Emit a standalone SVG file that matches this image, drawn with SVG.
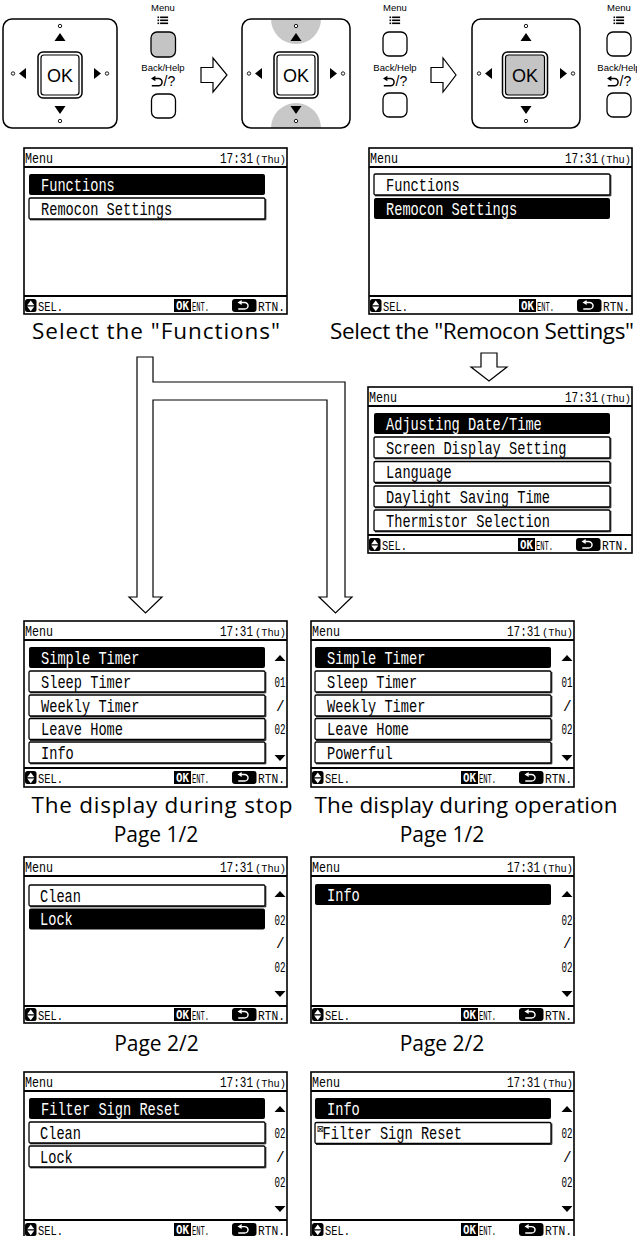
<svg xmlns="http://www.w3.org/2000/svg" xmlns:xlink="http://www.w3.org/1999/xlink" width="637" height="1236" viewBox="0 0 637 1236">
<style>
.pnl{fill:#fff;stroke:#000;stroke-width:1.5}
.okb{fill:#fff;stroke:#000;stroke-width:1.5}
.okg{fill:#c4c4c4;stroke:#000;stroke-width:1.5}
.okt{font-family:"Liberation Sans",Arial,sans-serif;font-size:18px;text-anchor:middle;fill:#000}
.btn{fill:#fff;stroke:#000;stroke-width:1.3}
.btng{fill:#c4c4c4;stroke:#000;stroke-width:1.3}
.lbl{font-family:"Liberation Sans",Arial,sans-serif;font-size:9.5px;text-anchor:middle;fill:#000}
.q{font-family:"Liberation Sans",Arial,sans-serif;font-size:14px;fill:#000}
.harrow{fill:#fff;stroke:#000;stroke-width:1.2;stroke-linejoin:miter}
.scr{fill:#fff;stroke:#000;stroke-width:1.6}
.sep{stroke:#000;stroke-width:1.8}
.hdr{font-family:"Liberation Mono","DejaVu Sans Mono",monospace;font-size:14px;fill:#000}
.ths{font-family:"Liberation Mono","DejaVu Sans Mono",monospace;font-size:11px;fill:#000}
.lcd{font-family:"Liberation Mono","DejaVu Sans Mono",monospace;font-size:18.5px;fill:#000}
.wt{fill:#fff}
.sel{fill:#000}
.item{fill:#fff;stroke:#000;stroke-width:1.3}
.shd{fill:none;stroke:#000;stroke-width:1}
.ft{font-family:"Liberation Mono","DejaVu Sans Mono",monospace;font-size:13px;fill:#000}
.okf{font-family:"DejaVu Sans Mono",monospace;font-size:11.5px;font-weight:bold;fill:#fff}
.sc{font-family:"Liberation Mono","DejaVu Sans Mono",monospace;font-size:14.5px;fill:#000}
.cap{font-family:"Open Sans","Liberation Sans",sans-serif;font-size:22.5px;text-anchor:middle;fill:#000}
.pg{font-family:"Open Sans","Liberation Sans",sans-serif;font-size:21px;text-anchor:middle;fill:#000}
</style>
<defs>
<g id="marks">
<circle cx="0" cy="-47.5" r="1.7" fill="#fff" stroke="#000" stroke-width="0.9"/>
<polygon points="0,-40.5 5.5,-32.5 -5.5,-32.5" fill="#000"/>
<polygon points="0,40.5 5.5,32.5 -5.5,32.5" fill="#000"/>
<circle cx="0" cy="47.5" r="1.7" fill="#fff" stroke="#000" stroke-width="0.9"/>
<polygon points="-41,0 -34,-5.5 -34,5.5" fill="#000"/>
<circle cx="-47" cy="0" r="1.7" fill="#fff" stroke="#000" stroke-width="0.9"/>
<polygon points="41,0 34,-5.5 34,5.5" fill="#000"/>
<circle cx="47" cy="0" r="1.7" fill="#fff" stroke="#000" stroke-width="0.9"/>
</g>
<g id="ret">
<path d="M0,2.5 L4.4,-0.2 L4.4,5.2 Z" stroke="none"/>
<path d="M3.8,2.5 H7.5 A3.6,3.6 0 0 1 7.5,9.7 H0.8" fill="none" stroke-width="1.5"/>
</g>
<g id="menuicon">
<rect x="0" y="0" width="1.6" height="1.6" fill="#000"/>
<rect x="0" y="3" width="1.6" height="1.6" fill="#000"/>
<rect x="0" y="6" width="1.6" height="1.6" fill="#000"/>
<rect x="2.6" y="0" width="8" height="1.6" fill="#000"/>
<rect x="2.6" y="3" width="8" height="1.6" fill="#000"/>
<rect x="2.6" y="6" width="8" height="1.6" fill="#000"/>
</g>
<g id="ficons">
<rect x="1" y="151" width="11.5" height="13" rx="2.5" fill="#000"/>
<polygon points="6.75,152.6 10.3,157.2 3.2,157.2" fill="#fff"/>
<polygon points="3.2,158.6 10.3,158.6 6.75,163.2" fill="#fff"/>
<rect x="150" y="151" width="17" height="13" fill="#000"/>
<rect x="208" y="151" width="24.5" height="13" rx="3" fill="#000"/>
<use xlink:href="#ret" href="#ret" transform="translate(213.5,152.3) scale(0.95,0.9)" fill="#fff" stroke="#fff"/>
</g>
<g id="scrollarrows">
<polygon points="250.5,40 261.5,40 256,34" fill="#000"/>
<polygon points="250.5,134 261.5,134 256,140" fill="#000"/>
</g>
<clipPath id="clipP2"><rect x="242" y="19" width="108" height="109" rx="9"/></clipPath>
</defs>

<!-- Top row: remote controller buttons -->
<g id="dpad-1">
<rect class="pnl" x="3" y="19" width="114" height="109" rx="9"/>
<use xlink:href="#marks" href="#marks" transform="translate(60,73.5)"/>
<rect class="okb" x="38" y="52" width="44" height="46" rx="5"/>
<rect class="okb" x="41" y="55" width="38" height="40" rx="3" style="stroke-width:1.2"/>
<text class="okt" x="60" y="81.5">OK</text>
</g>
<g id="menu-buttons-1">
<text class="lbl" x="163" y="11">Menu</text>
<use xlink:href="#menuicon" href="#menuicon" x="157.5" y="16.5"/>
<rect class="btng" x="151" y="32" width="24.5" height="25" rx="6"/>
<text class="lbl" x="163" y="70.5">Back/Help</text>
<use xlink:href="#ret" href="#ret" transform="translate(151,76)" fill="#000" stroke="#000"/>
<text class="q" x="163.5" y="86">/?</text>
<rect class="btn" x="151.5" y="94" width="24" height="24" rx="6"/>
</g>
<g id="arrow-right-1">
<polygon class="harrow" points="201,67.5 213,67.5 213,58 227,75 213,92 213,82.5 201,82.5"/>
</g>
<g id="dpad-2">
<rect x="242" y="19" width="108" height="109" rx="9" fill="#fff"/>
<g clip-path="url(#clipP2)">
<circle cx="296" cy="19" r="25" fill="#c8c8c8"/>
<circle cx="296" cy="128" r="25" fill="#c8c8c8"/>
</g>
<rect x="242" y="19" width="108" height="109" rx="9" fill="none" stroke="#000" stroke-width="1.5"/>
<use xlink:href="#marks" href="#marks" transform="translate(296,73.5)"/>
<rect class="okb" x="274" y="52" width="44" height="46" rx="5"/>
<rect class="okb" x="277" y="55" width="38" height="40" rx="3" style="stroke-width:1.2"/>
<text class="okt" x="296" y="81.5">OK</text>
</g>
<g id="menu-buttons-2">
<text class="lbl" x="395" y="11">Menu</text>
<use xlink:href="#menuicon" href="#menuicon" x="389.5" y="16.5"/>
<rect class="btn" x="383" y="32" width="24" height="24" rx="6"/>
<text class="lbl" x="395" y="70.5">Back/Help</text>
<use xlink:href="#ret" href="#ret" transform="translate(383,76)" fill="#000" stroke="#000"/>
<text class="q" x="395.5" y="86">/?</text>
<rect class="btn" x="383" y="93" width="24" height="24" rx="6"/>
</g>
<g id="arrow-right-2">
<polygon class="harrow" points="431,67.5 443,67.5 443,58 456,75 443,92 443,82.5 431,82.5"/>
</g>
<g id="dpad-3">
<rect class="pnl" x="472" y="19" width="108" height="109" rx="9"/>
<use xlink:href="#marks" href="#marks" transform="translate(526,73.5)"/>
<rect class="okb" x="502.5" y="52" width="45" height="46" rx="5"/>
<rect class="okg" x="505.5" y="55" width="39" height="40" rx="3" style="stroke-width:1.2"/>
<text class="okt" x="525" y="81.5">OK</text>
</g>
<g id="menu-buttons-3">
<text class="lbl" x="619" y="11">Menu</text>
<use xlink:href="#menuicon" href="#menuicon" x="613.5" y="16.5"/>
<rect class="btn" x="607" y="32" width="24" height="24" rx="6"/>
<text class="lbl" x="619" y="70.5">Back/Help</text>
<use xlink:href="#ret" href="#ret" transform="translate(607,76)" fill="#000" stroke="#000"/>
<text class="q" x="619.5" y="86">/?</text>
<rect class="btn" x="607" y="93" width="24" height="24" rx="6"/>
</g>

<!-- Screen: Menu (Functions selected) -->
<g id="screen-menu-functions" transform="translate(24,148)">
<rect class="scr" x="0" y="0" width="263" height="166"/>
<text class="hdr" x="1" y="14.5" textLength="28" lengthAdjust="spacingAndGlyphs">Menu</text>
<text class="hdr" transform="translate(196,14.5) scale(0.786,1)">17:31</text>
<text class="ths" transform="translate(231,14.5) scale(0.94,1)">(Thu)</text>
<line class="sep" x1="0" y1="19" x2="263" y2="19"/>
<rect class="sel" x="5" y="26" width="236" height="21" rx="2"/>
<text class="lcd wt" x="17" y="42.5" textLength="73.8" lengthAdjust="spacingAndGlyphs">Functions</text>
<rect class="item" x="5" y="50" width="236" height="21" rx="1.5"/>
<path class="shd" d="M241.8,51 V71.8 H6"/>
<text class="lcd" x="17" y="66.5" textLength="131.2" lengthAdjust="spacingAndGlyphs">Remocon Settings</text>
<line class="sep" x1="0" y1="148" x2="263" y2="148"/>
<use xlink:href="#ficons" href="#ficons"/>
<text class="ft" x="14" y="163" textLength="25" lengthAdjust="spacingAndGlyphs">SEL.</text>
<text class="okf" x="152" y="162" textLength="13" lengthAdjust="spacingAndGlyphs">OK</text>
<text class="ft" x="168" y="163" textLength="17" lengthAdjust="spacingAndGlyphs">ENT.</text>
<text class="ft" x="234" y="163" textLength="27" lengthAdjust="spacingAndGlyphs">RTN.</text>
</g>
<text class="cap" x="156" y="339" textLength="248">Select the "Functions"</text>

<!-- Screen: Menu (Remocon Settings selected) -->
<g id="screen-menu-remocon" transform="translate(369,148)">
<rect class="scr" x="0" y="0" width="263" height="166"/>
<text class="hdr" x="1" y="14.5" textLength="28" lengthAdjust="spacingAndGlyphs">Menu</text>
<text class="hdr" transform="translate(196,14.5) scale(0.786,1)">17:31</text>
<text class="ths" transform="translate(231,14.5) scale(0.94,1)">(Thu)</text>
<line class="sep" x1="0" y1="19" x2="263" y2="19"/>
<rect class="item" x="5" y="26" width="236" height="21" rx="1.5"/>
<path class="shd" d="M241.8,27 V47.8 H6"/>
<text class="lcd" x="17" y="42.5" textLength="73.8" lengthAdjust="spacingAndGlyphs">Functions</text>
<rect class="sel" x="5" y="50" width="236" height="21" rx="2"/>
<text class="lcd wt" x="17" y="66.5" textLength="131.2" lengthAdjust="spacingAndGlyphs">Remocon Settings</text>
<line class="sep" x1="0" y1="148" x2="263" y2="148"/>
<use xlink:href="#ficons" href="#ficons"/>
<text class="ft" x="14" y="163" textLength="25" lengthAdjust="spacingAndGlyphs">SEL.</text>
<text class="okf" x="152" y="162" textLength="13" lengthAdjust="spacingAndGlyphs">OK</text>
<text class="ft" x="168" y="163" textLength="17" lengthAdjust="spacingAndGlyphs">ENT.</text>
<text class="ft" x="234" y="163" textLength="27" lengthAdjust="spacingAndGlyphs">RTN.</text>
</g>
<text class="cap" x="482" y="339" textLength="304">Select the "Remocon Settings"</text>

<!-- Connectors -->
<g id="connectors">
<polygon class="harrow" points="481,353 497,353 497,367 507,367 489,381 471,367 481,367"/>
<polygon class="harrow" points="137,357 153,357 153,382 345,382 345,597 352,597 335.5,613 319,597 327,597 327,400 153,400 153,597 162,597 145.5,613 129,597 137,597"/>
</g>

<!-- Screen: Remocon Settings menu -->
<g id="screen-remocon-settings" transform="translate(368,387)">
<rect class="scr" x="0" y="0" width="264" height="166"/>
<text class="hdr" x="1" y="14.5" textLength="28" lengthAdjust="spacingAndGlyphs">Menu</text>
<text class="hdr" transform="translate(197,14.5) scale(0.786,1)">17:31</text>
<text class="ths" transform="translate(232,14.5) scale(0.94,1)">(Thu)</text>
<line class="sep" x1="0" y1="19" x2="264" y2="19"/>
<rect class="sel" x="6" y="26" width="236" height="21" rx="2"/>
<text class="lcd wt" x="18" y="42.5" textLength="155.8" lengthAdjust="spacingAndGlyphs">Adjusting Date/Time</text>
<rect class="item" x="6" y="50" width="236" height="21" rx="1.5"/>
<path class="shd" d="M242.8,51 V71.8 H7"/>
<text class="lcd" x="18" y="66.5" textLength="180.4" lengthAdjust="spacingAndGlyphs">Screen Display Setting</text>
<rect class="item" x="6" y="74.5" width="236" height="21" rx="1.5"/>
<path class="shd" d="M242.8,75.5 V96.3 H7"/>
<text class="lcd" x="18" y="91" textLength="65.6" lengthAdjust="spacingAndGlyphs">Language</text>
<rect class="item" x="6" y="99" width="236" height="21" rx="1.5"/>
<path class="shd" d="M242.8,100 V120.8 H7"/>
<text class="lcd" x="18" y="115.5" textLength="164" lengthAdjust="spacingAndGlyphs">Daylight Saving Time</text>
<rect class="item" x="6" y="123" width="236" height="21" rx="1.5"/>
<path class="shd" d="M242.8,124 V144.8 H7"/>
<text class="lcd" x="18" y="139.5" textLength="164" lengthAdjust="spacingAndGlyphs">Thermistor Selection</text>
<line class="sep" x1="0" y1="148" x2="264" y2="148"/>
<use xlink:href="#ficons" href="#ficons"/>
<text class="ft" x="14" y="163" textLength="25" lengthAdjust="spacingAndGlyphs">SEL.</text>
<text class="okf" x="152" y="162" textLength="13" lengthAdjust="spacingAndGlyphs">OK</text>
<text class="ft" x="168" y="163" textLength="17" lengthAdjust="spacingAndGlyphs">ENT.</text>
<text class="ft" x="234" y="163" textLength="27" lengthAdjust="spacingAndGlyphs">RTN.</text>
</g>

<!-- Screen: Functions during stop, page 1 -->
<g id="screen-stop-p1" transform="translate(24,621)">
<rect class="scr" x="0" y="0" width="263" height="166"/>
<text class="hdr" x="1" y="14.5" textLength="28" lengthAdjust="spacingAndGlyphs">Menu</text>
<text class="hdr" transform="translate(196,14.5) scale(0.786,1)">17:31</text>
<text class="ths" transform="translate(231,14.5) scale(0.94,1)">(Thu)</text>
<line class="sep" x1="0" y1="19" x2="263" y2="19"/>
<rect class="sel" x="5" y="26" width="236" height="21" rx="2"/>
<text class="lcd wt" x="17" y="42.5" textLength="98.4" lengthAdjust="spacingAndGlyphs">Simple Timer</text>
<rect class="item" x="5" y="50" width="236" height="21" rx="1.5"/>
<path class="shd" d="M241.8,51 V71.8 H6"/>
<text class="lcd" x="17" y="66.5" textLength="90.2" lengthAdjust="spacingAndGlyphs">Sleep Timer</text>
<rect class="item" x="5" y="74" width="236" height="21" rx="1.5"/>
<path class="shd" d="M241.8,75 V95.8 H6"/>
<text class="lcd" x="17" y="90.5" textLength="98.4" lengthAdjust="spacingAndGlyphs">Weekly Timer</text>
<rect class="item" x="5" y="97.5" width="236" height="21" rx="1.5"/>
<path class="shd" d="M241.8,98.5 V119.3 H6"/>
<text class="lcd" x="17" y="114" textLength="82" lengthAdjust="spacingAndGlyphs">Leave Home</text>
<rect class="item" x="5" y="121" width="236" height="21" rx="1.5"/>
<path class="shd" d="M241.8,122 V142.8 H6"/>
<text class="lcd" x="17" y="137.5" textLength="32.8" lengthAdjust="spacingAndGlyphs">Info</text>
<use xlink:href="#scrollarrows" href="#scrollarrows"/>
<text class="sc" x="250.5" y="66" textLength="11" lengthAdjust="spacingAndGlyphs">01</text>
<text class="sc" x="252" y="90">/</text>
<text class="sc" x="250.5" y="113" textLength="11" lengthAdjust="spacingAndGlyphs">02</text>
<line class="sep" x1="0" y1="147" x2="263" y2="147"/>
<use xlink:href="#ficons" href="#ficons" transform="translate(0,-1)"/>
<text class="ft" x="14" y="162" textLength="25" lengthAdjust="spacingAndGlyphs">SEL.</text>
<text class="okf" x="152" y="161" textLength="13" lengthAdjust="spacingAndGlyphs">OK</text>
<text class="ft" x="168" y="162" textLength="17" lengthAdjust="spacingAndGlyphs">ENT.</text>
<text class="ft" x="234" y="162" textLength="27" lengthAdjust="spacingAndGlyphs">RTN.</text>
</g>
<text class="cap" x="162" y="813" textLength="261">The display during stop</text>
<text class="pg" x="156" y="842">Page 1/2</text>

<!-- Screen: Functions during operation, page 1 -->
<g id="screen-operation-p1" transform="translate(311,621)">
<rect class="scr" x="0" y="0" width="263" height="166"/>
<text class="hdr" x="1" y="14.5" textLength="28" lengthAdjust="spacingAndGlyphs">Menu</text>
<text class="hdr" transform="translate(196,14.5) scale(0.786,1)">17:31</text>
<text class="ths" transform="translate(231,14.5) scale(0.94,1)">(Thu)</text>
<line class="sep" x1="0" y1="19" x2="263" y2="19"/>
<rect class="sel" x="4" y="26" width="236" height="21" rx="2"/>
<text class="lcd wt" x="16" y="42.5" textLength="98.4" lengthAdjust="spacingAndGlyphs">Simple Timer</text>
<rect class="item" x="4" y="50" width="236" height="21" rx="1.5"/>
<path class="shd" d="M240.8,51 V71.8 H5"/>
<text class="lcd" x="16" y="66.5" textLength="90.2" lengthAdjust="spacingAndGlyphs">Sleep Timer</text>
<rect class="item" x="4" y="74" width="236" height="21" rx="1.5"/>
<path class="shd" d="M240.8,75 V95.8 H5"/>
<text class="lcd" x="16" y="90.5" textLength="98.4" lengthAdjust="spacingAndGlyphs">Weekly Timer</text>
<rect class="item" x="4" y="97.5" width="236" height="21" rx="1.5"/>
<path class="shd" d="M240.8,98.5 V119.3 H5"/>
<text class="lcd" x="16" y="114" textLength="82" lengthAdjust="spacingAndGlyphs">Leave Home</text>
<rect class="item" x="4" y="121" width="236" height="21" rx="1.5"/>
<path class="shd" d="M240.8,122 V142.8 H5"/>
<text class="lcd" x="16" y="137.5" textLength="65.6" lengthAdjust="spacingAndGlyphs">Powerful</text>
<use xlink:href="#scrollarrows" href="#scrollarrows"/>
<text class="sc" x="250.5" y="66" textLength="11" lengthAdjust="spacingAndGlyphs">01</text>
<text class="sc" x="252" y="90">/</text>
<text class="sc" x="250.5" y="113" textLength="11" lengthAdjust="spacingAndGlyphs">02</text>
<line class="sep" x1="0" y1="147" x2="263" y2="147"/>
<use xlink:href="#ficons" href="#ficons" transform="translate(0,-1)"/>
<text class="ft" x="14" y="162" textLength="25" lengthAdjust="spacingAndGlyphs">SEL.</text>
<text class="okf" x="152" y="161" textLength="13" lengthAdjust="spacingAndGlyphs">OK</text>
<text class="ft" x="168" y="162" textLength="17" lengthAdjust="spacingAndGlyphs">ENT.</text>
<text class="ft" x="234" y="162" textLength="27" lengthAdjust="spacingAndGlyphs">RTN.</text>
</g>
<text class="cap" x="466" y="813" textLength="303">The display during operation</text>
<text class="pg" x="442" y="842">Page 1/2</text>

<!-- Screen: Functions during stop, page 2 -->
<g id="screen-stop-p2" transform="translate(24,857)">
<rect class="scr" x="0" y="0" width="263" height="166"/>
<text class="hdr" x="1" y="14.5" textLength="28" lengthAdjust="spacingAndGlyphs">Menu</text>
<text class="hdr" transform="translate(196,14.5) scale(0.786,1)">17:31</text>
<text class="ths" transform="translate(231,14.5) scale(0.94,1)">(Thu)</text>
<line class="sep" x1="0" y1="19" x2="263" y2="19"/>
<rect class="item" x="5" y="28" width="236" height="21" rx="1.5"/>
<path class="shd" d="M241.8,29 V49.8 H6"/>
<text class="lcd" x="16" y="44.5" textLength="41" lengthAdjust="spacingAndGlyphs">Clean</text>
<rect class="sel" x="5" y="51.5" width="236" height="21" rx="2"/>
<text class="lcd wt" x="16" y="68" textLength="32.8" lengthAdjust="spacingAndGlyphs">Lock</text>
<use xlink:href="#scrollarrows" href="#scrollarrows"/>
<text class="sc" x="250.5" y="68" textLength="11" lengthAdjust="spacingAndGlyphs">02</text>
<text class="sc" x="252" y="91">/</text>
<text class="sc" x="250.5" y="115" textLength="11" lengthAdjust="spacingAndGlyphs">02</text>
<line class="sep" x1="0" y1="149" x2="263" y2="149"/>
<use xlink:href="#ficons" href="#ficons"/>
<text class="ft" x="14" y="163" textLength="25" lengthAdjust="spacingAndGlyphs">SEL.</text>
<text class="okf" x="152" y="162" textLength="13" lengthAdjust="spacingAndGlyphs">OK</text>
<text class="ft" x="168" y="163" textLength="17" lengthAdjust="spacingAndGlyphs">ENT.</text>
<text class="ft" x="234" y="163" textLength="27" lengthAdjust="spacingAndGlyphs">RTN.</text>
</g>
<text class="pg" x="156.5" y="1051">Page 2/2</text>

<!-- Screen: Functions during operation, page 2 -->
<g id="screen-operation-p2" transform="translate(311,857)">
<rect class="scr" x="0" y="0" width="263" height="166"/>
<text class="hdr" x="1" y="14.5" textLength="28" lengthAdjust="spacingAndGlyphs">Menu</text>
<text class="hdr" transform="translate(196,14.5) scale(0.786,1)">17:31</text>
<text class="ths" transform="translate(231,14.5) scale(0.94,1)">(Thu)</text>
<line class="sep" x1="0" y1="19" x2="263" y2="19"/>
<rect class="sel" x="4" y="27" width="236" height="21" rx="2"/>
<text class="lcd wt" x="16" y="43.5" textLength="32.8" lengthAdjust="spacingAndGlyphs">Info</text>
<use xlink:href="#scrollarrows" href="#scrollarrows"/>
<text class="sc" x="250.5" y="68" textLength="11" lengthAdjust="spacingAndGlyphs">02</text>
<text class="sc" x="252" y="91">/</text>
<text class="sc" x="250.5" y="115" textLength="11" lengthAdjust="spacingAndGlyphs">02</text>
<line class="sep" x1="0" y1="149" x2="263" y2="149"/>
<use xlink:href="#ficons" href="#ficons"/>
<text class="ft" x="14" y="163" textLength="25" lengthAdjust="spacingAndGlyphs">SEL.</text>
<text class="okf" x="152" y="162" textLength="13" lengthAdjust="spacingAndGlyphs">OK</text>
<text class="ft" x="168" y="163" textLength="17" lengthAdjust="spacingAndGlyphs">ENT.</text>
<text class="ft" x="234" y="163" textLength="27" lengthAdjust="spacingAndGlyphs">RTN.</text>
</g>
<text class="pg" x="442" y="1051">Page 2/2</text>

<!-- Screen: Functions during stop, page 2/2 (with Filter Sign Reset) -->
<g id="screen-stop-p2-filter" transform="translate(24,1072)">
<rect class="scr" x="0" y="0" width="263" height="166"/>
<text class="hdr" x="1" y="14.5" textLength="28" lengthAdjust="spacingAndGlyphs">Menu</text>
<text class="hdr" transform="translate(196,14.5) scale(0.786,1)">17:31</text>
<text class="ths" transform="translate(231,14.5) scale(0.94,1)">(Thu)</text>
<line class="sep" x1="0" y1="19" x2="263" y2="19"/>
<rect class="sel" x="5" y="26" width="236" height="21" rx="2"/>
<text class="lcd wt" x="17" y="42.5" textLength="139.4" lengthAdjust="spacingAndGlyphs">Filter Sign Reset</text>
<rect class="item" x="5" y="50" width="236" height="21" rx="1.5"/>
<path class="shd" d="M241.8,51 V71.8 H6"/>
<text class="lcd" x="16" y="66.5" textLength="41" lengthAdjust="spacingAndGlyphs">Clean</text>
<rect class="item" x="5" y="74" width="236" height="21" rx="1.5"/>
<path class="shd" d="M241.8,75 V95.8 H6"/>
<text class="lcd" x="16" y="90.5" textLength="32.8" lengthAdjust="spacingAndGlyphs">Lock</text>
<use xlink:href="#scrollarrows" href="#scrollarrows"/>
<text class="sc" x="250.5" y="66" textLength="11" lengthAdjust="spacingAndGlyphs">02</text>
<text class="sc" x="252" y="90">/</text>
<text class="sc" x="250.5" y="115" textLength="11" lengthAdjust="spacingAndGlyphs">02</text>
<line class="sep" x1="0" y1="148" x2="263" y2="148"/>
<use xlink:href="#ficons" href="#ficons"/>
<text class="ft" x="14" y="163" textLength="25" lengthAdjust="spacingAndGlyphs">SEL.</text>
<text class="okf" x="152" y="162" textLength="13" lengthAdjust="spacingAndGlyphs">OK</text>
<text class="ft" x="168" y="163" textLength="17" lengthAdjust="spacingAndGlyphs">ENT.</text>
<text class="ft" x="234" y="163" textLength="27" lengthAdjust="spacingAndGlyphs">RTN.</text>
</g>

<!-- Screen: Functions during operation, page 2/2 (with Filter Sign Reset) -->
<g id="screen-operation-p2-filter" transform="translate(311,1072)">
<rect class="scr" x="0" y="0" width="263" height="166"/>
<text class="hdr" x="1" y="14.5" textLength="28" lengthAdjust="spacingAndGlyphs">Menu</text>
<text class="hdr" transform="translate(196,14.5) scale(0.786,1)">17:31</text>
<text class="ths" transform="translate(231,14.5) scale(0.94,1)">(Thu)</text>
<line class="sep" x1="0" y1="19" x2="263" y2="19"/>
<rect class="sel" x="4" y="26" width="236" height="21" rx="2"/>
<text class="lcd wt" x="16" y="42.5" textLength="32.8" lengthAdjust="spacingAndGlyphs">Info</text>
<rect class="item" x="4" y="50.5" width="236" height="21" rx="1.5"/>
<path class="shd" d="M240.8,51.5 V72.3 H5"/>
<text x="5.5" y="60" style="font-family:'DejaVu Sans',sans-serif;font-size:8.5px;fill:#000">⊠</text>
<text class="lcd" x="11.5" y="67" textLength="139.4" lengthAdjust="spacingAndGlyphs">Filter Sign Reset</text>
<use xlink:href="#scrollarrows" href="#scrollarrows"/>
<text class="sc" x="250.5" y="66" textLength="11" lengthAdjust="spacingAndGlyphs">02</text>
<text class="sc" x="252" y="90">/</text>
<text class="sc" x="250.5" y="115" textLength="11" lengthAdjust="spacingAndGlyphs">02</text>
<line class="sep" x1="0" y1="148" x2="263" y2="148"/>
<use xlink:href="#ficons" href="#ficons"/>
<text class="ft" x="14" y="163" textLength="25" lengthAdjust="spacingAndGlyphs">SEL.</text>
<text class="okf" x="152" y="162" textLength="13" lengthAdjust="spacingAndGlyphs">OK</text>
<text class="ft" x="168" y="163" textLength="17" lengthAdjust="spacingAndGlyphs">ENT.</text>
<text class="ft" x="234" y="163" textLength="27" lengthAdjust="spacingAndGlyphs">RTN.</text>
</g>
</svg>
